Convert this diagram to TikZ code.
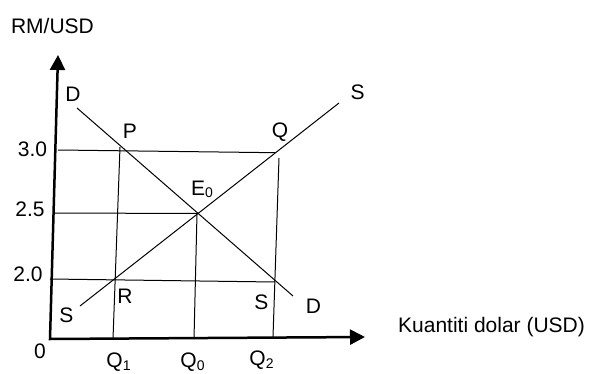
\documentclass[tikz,border=0pt]{standalone}
\usepackage{fontspec}
\setmainfont{Liberation Sans}
\usetikzlibrary{arrows.meta}
\newcommand{\lowsub}[1]{\raisebox{-2.5pt}{\fontsize{14}{16}\selectfont #1}}
\begin{document}
\begin{tikzpicture}[x=1pt,y=1pt,
  lbl/.style={font=\fontsize{21}{25}\selectfont, inner sep=0pt, anchor=base},
  curve/.style={line width=1pt},
  axis/.style={line width=2.5pt, line join=miter,
    {Triangle[length=15pt,width=15pt]}-{Triangle[length=15pt,width=15pt]}}]
\useasboundingbox (0,0) rectangle (589,373);
% key points
\coordinate (O) at (50,34);
\coordinate (Ytip) at (58,318);
\coordinate (Xtip) at (365,36);
\coordinate (P) at (120,223);
\coordinate (Q) at (275,220.3);
\coordinate (E) at (197,159.5);
\coordinate (R) at (115.2,94);
\coordinate (Sp) at (274.8,91);
\coordinate (A30) at (58,223);
\coordinate (A25) at (55,160);
\coordinate (A20) at (50,94);
\coordinate (Q1top) at (120,226);
\coordinate (Q1b) at (113,34);
\coordinate (Q0b) at (194,34);
\coordinate (Q2top) at (279,215);
\coordinate (Q2b) at (273,36);
\coordinate (D1) at (77,265);
\coordinate (D2) at (293,77);
\coordinate (S1) at (80,67);
\coordinate (S2) at (339,270);
% axes
\draw[axis] (Ytip) -- (O) -- (Xtip);
% guide lines
\draw[curve] (A30) -- (Q);
\draw[curve] (A25) -- (E);
\draw[curve] (A20) -- (Sp);
\draw[curve] (Q1top) -- (Q1b);
\draw[curve] (E) -- (Q0b);
\draw[curve] (Q2top) -- (Q2b);
% demand and supply
\draw[curve] (D1) -- (D2);
\draw[curve] (S1) -- (S2);
% labels
\node[lbl] (ylab) at (52.5,339) {RM/USD};
\node[lbl] (xlab) [anchor=base west] at (398,41) {Kuantiti dolar (USD)};
\node[lbl] (Dtop) at (73,271.3) {D};
\node[lbl] (Plab) at (130,234.7) {P};
\node[lbl] (Qlab) at (280,236) {Q};
\node[lbl] (Stop) at (357.5,273.7) {S};
\node[lbl] (v30) at (32.5,217) {3.0};
\node[lbl] (v25) at (30,157) {2.5};
\node[lbl] (v20) at (28,92) {2.0};
\node[lbl] (Elab) [anchor=base west] at (191,178) {E\lowsub{0}};
\node[lbl] (Rlab) at (125,70) {R};
\node[lbl] (Sleft) at (66.5,51) {S};
\node[lbl] (Sright) at (261.5,64) {S};
\node[lbl] (Dright) at (313.5,60) {D};
\node[lbl] (zero) at (40,15) {0};
\node[lbl] (q1) at (118.5,5.5) {Q\lowsub{1}};
\node[lbl] (q0) at (192.5,5.5) {Q\lowsub{0}};
\node[lbl] (q2) at (261.5,7.5) {Q\lowsub{2}};
\end{tikzpicture}
\end{document}
